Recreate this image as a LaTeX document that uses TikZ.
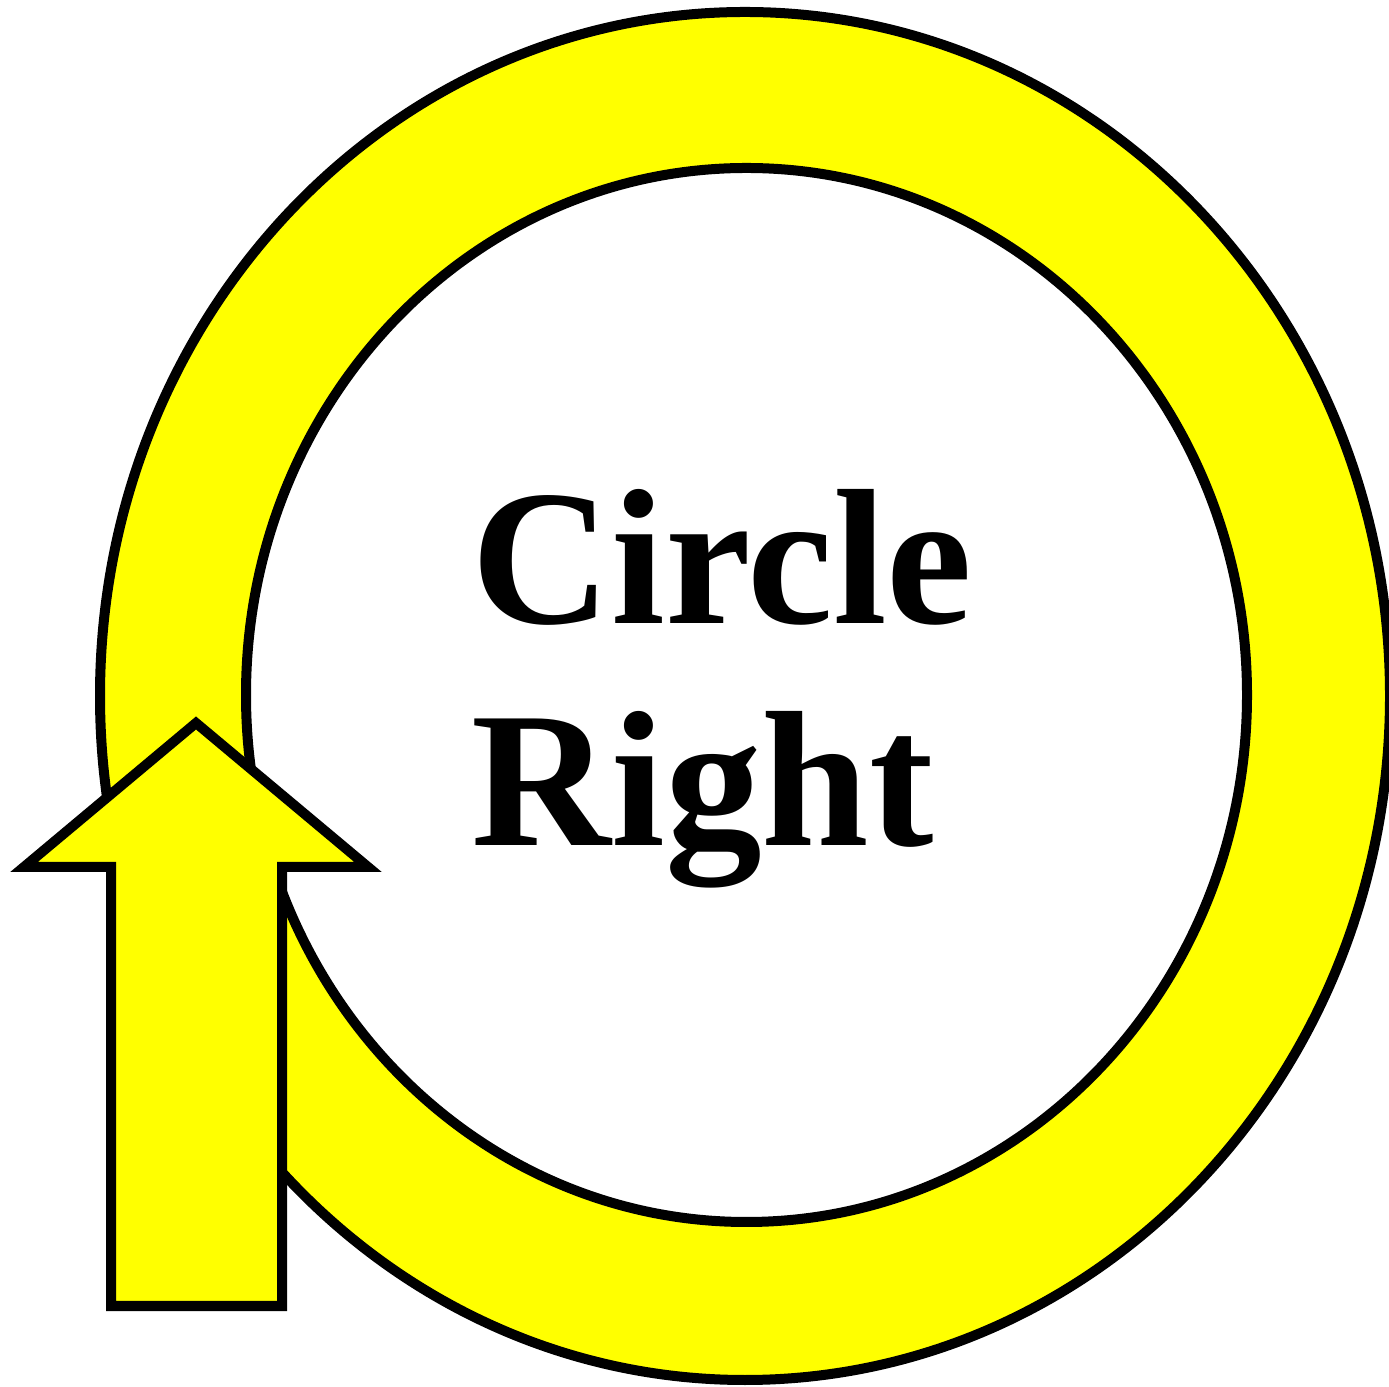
\documentclass[tikz,border=0pt]{standalone}
\usepackage{fontspec}
\setmainfont{Liberation Serif}
\usepackage{tikz}
\usetikzlibrary{positioning}
\definecolor{ringyellow}{RGB}{255,255,0}

\begin{document}
\begin{tikzpicture}[line join=miter,
  outline/.style={line width=0.1cm,draw=black,fill=ringyellow},
  caption/.style={font=\bfseries\fontsize{55}{63}\selectfont,align=left,inner sep=0pt}]
\useasboundingbox (0,0) rectangle (13.89,13.86);
% ring
\draw[outline,even odd rule] (7.45,6.90) ellipse [x radius=6.45,y radius=6.84]
  (7.465,6.91) ellipse [x radius=5.005,y radius=5.27];
% arrow on top of the ring
\draw[outline] (1.11,0.80) -- (2.82,0.80) -- (2.82,5.19) -- (3.68,5.19)
  -- (1.96,6.63) -- (0.24,5.19) -- (1.11,5.19) -- cycle;
% text
\node[caption,anchor=north west] (label) at (4.71,8.97) {Circle\\Right};
\end{tikzpicture}
\end{document}
